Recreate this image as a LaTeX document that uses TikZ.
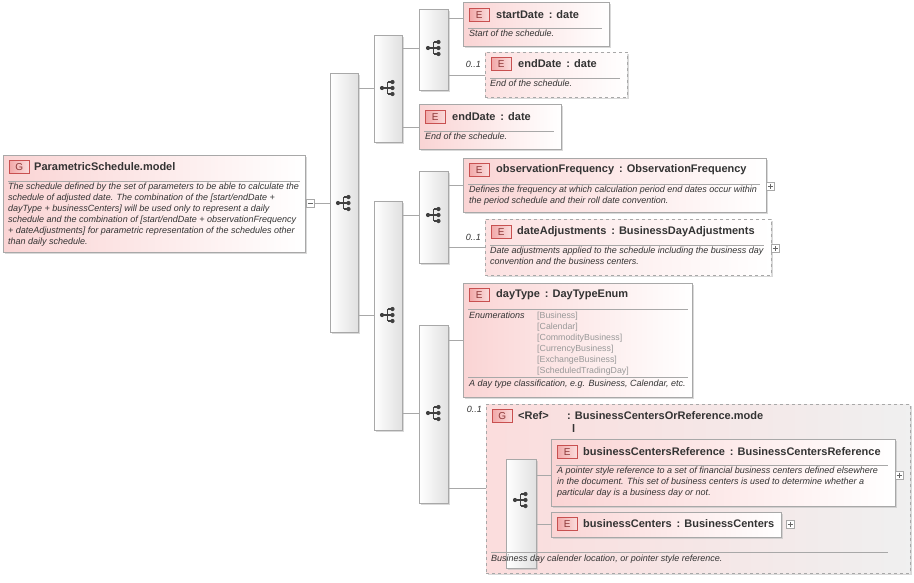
\documentclass[tikz,border=0pt]{standalone}
\usepackage{fontspec}
\setmainfont{Liberation Sans}
\usetikzlibrary{shadows}
\definecolor{bord}{HTML}{A8A8A8}
\definecolor{pinkL}{HTML}{FAD4D4}
\definecolor{badgeB}{HTML}{C85050}
\definecolor{badgeF}{HTML}{F2A8A8}
\definecolor{txt}{HTML}{333333}
\definecolor{enumc}{HTML}{999999}
\tikzset{
 elem/.style={draw=bord, left color=pinkL, right color=white, shading angle=90, inner sep=0, anchor=north west,
   drop shadow={shadow xshift=2pt, shadow yshift=-2pt, fill=black!25, opacity=.6}},
 opt/.style={elem, dashed, left color=pinkL!70, drop shadow={shadow xshift=2pt, shadow yshift=-2pt, fill=black!15, opacity=.5}},
 comp/.style={draw=bord, left color=white, right color=black!12, inner sep=0, anchor=north west,
   drop shadow={shadow xshift=2pt, shadow yshift=-2pt, fill=black!25, opacity=.6}},
 badge/.style={draw=badgeB, left color=badgeF, right color=badgeF!40, minimum width=20pt, minimum height=13pt, inner sep=0, anchor=west, font=\fontsize{10}{11}\selectfont, text=badgeB!70!black},
 ttl/.style={anchor=west, inner sep=0, font=\bfseries\fontsize{11}{13}\selectfont, text=txt},
 dsc/.style={anchor=north west, inner sep=0, align=left, font=\itshape\fontsize{9}{11}\selectfont, text=txt},
 enm/.style={anchor=north west, inner sep=0, align=left, font=\fontsize{8.8}{11}\selectfont, text=enumc},
 sep/.style={draw=bord, line width=.6pt},
 con/.style={draw=bord, line width=.6pt},
 card/.style={anchor=east, inner sep=0, font=\itshape\fontsize{9}{10}\selectfont, text=txt},
 pm/.style={draw=bord, fill=white, minimum size=8pt, inner sep=0},
 icon/.pic={
   \fill[black!75] (-7,0) circle (2.1);
   \draw[black!75, line width=1.1pt] (-7,0) -- (-1.5,0) (-1.5,-6) -- (-1.5,6)
     (-1.5,-6) -- (3,-6) (-1.5,6) -- (3,6) (-1.5,0)--(3,0);
   \fill[black!75] (3.5,-6) circle (2.1) (3.5,0) circle (2.1) (3.5,6) circle (2.1);
 }
}
\begin{document}
\begin{tikzpicture}[x=1pt,y=-1pt]
\useasboundingbox (0,0) rectangle (914,582);
% ---- main group
\node[elem, minimum width=302pt, minimum height=97pt] (pm) at (3,155) {};
\node[badge] (pmB) at (9,167) {G};
\node[ttl] (pmT) at (34,167) {ParametricSchedule.model};
\draw[sep] (8,181) -- (300,181);
\node[dsc] (pmD) at (8,183) {The schedule defined by the set of parameters to be able to calculate the\\schedule of adjusted date. The combination of the {[}start/endDate +\\dayType + businessCenters{]} will be used only to represent a daily\\schedule and the combination of {[}start/endDate + observationFrequency\\+ dateAdjustments{]} for parametric representation of the schedules other\\than daily schedule.};
\node[pm] (pmM) at (310,203) {};
\draw[black!60] (307.5,203) -- (312.5,203);
% ---- compositors
\node[comp, minimum width=28pt, minimum height=259pt] (c0) at (330,73) {};
\pic at (345,203) {icon};
\node[comp, minimum width=28pt, minimum height=107pt] (c1) at (374,35) {};
\pic at (389,88) {icon};
\node[comp, minimum width=29pt, minimum height=81pt] (c11) at (419,9) {};
\pic at (435,48) {icon};
\node[comp, minimum width=28pt, minimum height=229pt] (c2) at (374,201) {};
\pic at (389,315) {icon};
\node[comp, minimum width=29pt, minimum height=92pt] (c21) at (419,171) {};
\pic at (435,215) {icon};
\node[comp, minimum width=29pt, minimum height=178pt] (c22) at (419,325) {};
\pic at (435,413) {icon};
% ---- startDate
\node[elem, minimum width=146pt, minimum height=44pt] (sd) at (463,2) {};
\node[badge] at (469,15) {E};
\node[ttl] at (496,15) {startDate \,: date};
\draw[sep] (468,28) -- (602,28);
\node[dsc] at (469,30) {Start of the schedule.};
% ---- endDate optional
\node[opt, minimum width=142pt, minimum height=45pt] (ed1) at (485,52) {};
\node[card] at (481,64) {0..1};
\node[badge] at (491,64) {E};
\node[ttl] at (518,64) {endDate \,: date};
\draw[sep] (490,78) -- (620,78);
\node[dsc] at (490,80) {End of the schedule.};
% ---- endDate
\node[elem, minimum width=142pt, minimum height=45pt] (ed2) at (419,104) {};
\node[badge] at (425,117) {E};
\node[ttl] at (452,117) {endDate \,: date};
\draw[sep] (424,131) -- (554,131);
\node[dsc] at (425,133) {End of the schedule.};
% ---- observationFrequency
\node[elem, minimum width=303pt, minimum height=54pt] (of) at (463,158) {};
\node[badge] at (469,170) {E};
\node[ttl] at (496,170) {observationFrequency \,: ObservationFrequency};
\draw[sep] (468,184) -- (760,184);
\node[dsc] at (469,186) {Defines the frequency at which calculation period end dates occur within\\the period schedule and their roll date convention.};
\node[pm] (ofP) at (770,186) {};
\draw[black!60] (767.5,186) -- (772.5,186) (770,183.5) -- (770,188.5);
% ---- dateAdjustments
\node[opt, minimum width=286pt, minimum height=56pt] (da) at (485,219) {};
\node[card] at (481,237) {0..1};
\node[badge] at (491,232) {E};
\node[ttl] at (517,232) {dateAdjustments \,: BusinessDayAdjustments};
\draw[sep] (490,245) -- (764,245);
\node[dsc] at (490,247) {Date adjustments applied to the schedule including the business day\\convention and the business centers.};
\node[pm] (daP) at (775,248) {};
\draw[black!60] (772.5,248) -- (777.5,248) (775,245.5) -- (775,250.5);
% ---- dayType
\node[elem, minimum width=229pt, minimum height=114pt] (dt) at (463,283) {};
\node[badge] at (469,295) {E};
\node[ttl] at (496,295) {dayType \,: DayTypeEnum};
\draw[sep] (468,309) -- (688,309);
\node[dsc] at (469,312) {Enumerations};
\node[enm] at (537,312) {{[}Business{]}\\{[}Calendar{]}\\{[}CommodityBusiness{]}\\{[}CurrencyBusiness{]}\\{[}ExchangeBusiness{]}\\{[}ScheduledTradingDay{]}};
\draw[sep] (468,377) -- (688,377);
\node[dsc] at (469,380) {A day type classification, e.g. Business, Calendar, etc.};
% ---- Ref group
\node[opt, left color=pinkL!80, right color=black!6, minimum width=424pt, minimum height=169pt] (rg) at (486,404) {};
\node[card] at (482,409) {0..1};
\node[badge] at (492,416) {G};
\node[ttl] at (518,416) {<Ref>};
\node[ttl] at (567,416) {: BusinessCentersOrReference.mode};
\node[ttl] at (572,429) {l};
\node[comp, minimum width=30pt, minimum height=109pt] (c3) at (506,459) {};
\pic at (522,500) {icon};
% businessCentersReference
\node[elem, minimum width=344pt, minimum height=67pt] (bcr) at (551,439) {};
\node[badge] at (557,452) {E};
\node[ttl] at (583,452) {businessCentersReference \,: BusinessCentersReference};
\draw[sep] (556,465) -- (888,465);
\node[dsc] at (557,467) {A pointer style reference to a set of financial business centers defined elsewhere\\in the document. This set of business centers is used to determine whether a\\particular day is a business day or not.};
\node[pm] (bcrP) at (899,475) {};
\draw[black!60] (896.5,475) -- (901.5,475) (899,472.5) -- (899,477.5);
% businessCenters
\node[elem, minimum width=230pt, minimum height=25pt] (bc) at (551,512) {};
\node[badge] at (557,524) {E};
\node[ttl] at (583,524) {businessCenters \,: BusinessCenters};
\node[pm] (bcP) at (790,524) {};
\draw[black!60] (787.5,524) -- (792.5,524) (790,521.5) -- (790,526.5);
\draw[sep] (491,552) -- (888,552);
\node[dsc] at (491,555) {Business day calender location, or pointer style reference.};
% ---- connectors
\draw[con] (pmM.east) -- (c0.west |- pmM.east);
\draw[con] (c0.east |- 0,88) -- (c1.west |- 0,88);
\draw[con] (c0.east |- 0,315) -- (c2.west |- 0,315);
\draw[con] (c1.east |- 0,48) -- (c11.west |- 0,48);
\draw[con] (c1.east |- 0,127) -- (ed2.west |- 0,127);
\draw[con] (c11.east |- 0,18) -- (sd.west |- 0,18);
\draw[con] (c11.east |- 0,75) -- (ed1.west |- 0,75);
\draw[con] (c2.east |- 0,215) -- (c21.west |- 0,215);
\draw[con] (c2.east |- 0,413) -- (c22.west |- 0,413);
\draw[con] (c21.east |- 0,185) -- (of.west |- 0,185);
\draw[con] (c21.east |- 0,247) -- (da.west |- 0,247);
\draw[con] (c22.east |- 0,340) -- (dt.west |- 0,340);
\draw[con] (c22.east |- 0,488) -- (rg.west |- 0,488);
\draw[con] (c3.east |- 0,475) -- (bcr.west |- 0,475);
\draw[con] (c3.east |- 0,524) -- (bc.west |- 0,524);
\end{tikzpicture}
\end{document}
